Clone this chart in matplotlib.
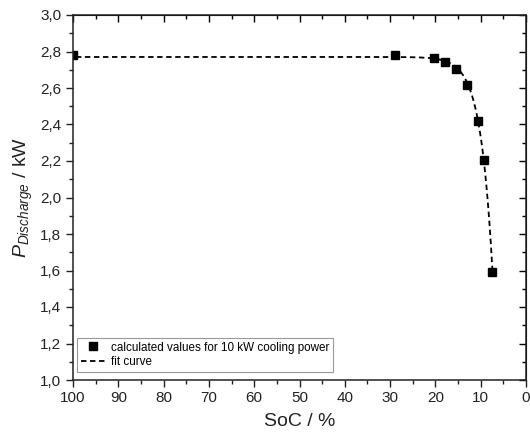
import matplotlib
import numpy as np

matplotlib.use("Agg")
matplotlib.rcParams["font.family"] = ["Liberation Sans", "DejaVu Sans"]
matplotlib.rcParams["mathtext.fontset"] = "custom"
matplotlib.rcParams["mathtext.rm"] = "Liberation Sans"
matplotlib.rcParams["mathtext.it"] = "Liberation Sans:italic"
import matplotlib.pyplot as plt  # noqa: E402
from matplotlib.ticker import FuncFormatter, MultipleLocator  # noqa: E402

# calculated discharge power vs state of charge (10 kW cooling power)
soc = [100.0, 28.9, 20.2, 17.9, 15.5, 13.0, 10.5, 9.3, 7.4]
power = [2.78, 2.78, 2.763, 2.740, 2.703, 2.615, 2.419, 2.205, 1.593]

LABEL_POINTS = "calculated values for 10 kW cooling power"
LABEL_FIT = "fit curve"


def fit_curve(x, y):
    # y = a - b * exp(-c * x), least squares over a grid of c
    x = np.asarray(x)
    y = np.asarray(y)
    best = None
    for c in np.linspace(0.05, 1.5, 2000):
        A = np.column_stack([np.ones_like(x), -np.exp(-c * x)])
        coef, *_ = np.linalg.lstsq(A, y, rcond=None)
        sse = np.sum((A @ coef - y) ** 2)
        if best is None or sse < best[0]:
            best = (sse, c, coef)
    _, c, (a, b) = best
    xs = np.linspace(x.min(), x.max(), 800)
    return xs, a - b * np.exp(-c * xs)


fig = plt.figure(figsize=(5.30, 4.37), dpi=100)
ax = fig.add_axes([73 / 530, 1 - 380 / 437, 453 / 530, 365 / 437])

xs, ys = fit_curve(soc, power)
ax.plot(xs, ys, color="black", linestyle=(0, (3, 2)), linewidth=1.3, label=LABEL_FIT)
ax.plot(soc, power, linestyle="none", marker="s", markersize=5.5,
        color="black", label=LABEL_POINTS)

ax.set_xlim(100, 0)
ax.set_ylim(1.0, 3.0)
ax.xaxis.set_major_locator(MultipleLocator(10))
ax.xaxis.set_minor_locator(MultipleLocator(5))
ax.yaxis.set_major_locator(MultipleLocator(0.2))
ax.yaxis.set_minor_locator(MultipleLocator(0.1))
ax.yaxis.set_major_formatter(FuncFormatter(lambda v, _: f"{v:.1f}".replace(".", ",")))
ax.xaxis.set_major_formatter(FuncFormatter(lambda v, _: f"{v:.0f}"))

ax.tick_params(axis="both", which="major", labelsize=11, length=5, width=1.0,
               direction="out", color="#222222", labelcolor="#222222")
ax.tick_params(axis="both", which="minor", length=3, width=1.0, direction="out",
               color="#222222")
ax.tick_params(axis="x", pad=3)

# inward ticks on the top and right edges
sec_x = ax.secondary_xaxis("top")
sec_x.xaxis.set_major_locator(MultipleLocator(10))
sec_x.xaxis.set_minor_locator(MultipleLocator(5))
sec_x.tick_params(which="major", direction="in", length=5, width=1.0, labeltop=False)
sec_x.tick_params(which="minor", direction="in", length=3, width=1.0)
sec_y = ax.secondary_yaxis("right")
sec_y.yaxis.set_major_locator(MultipleLocator(0.2))
sec_y.yaxis.set_minor_locator(MultipleLocator(0.1))
sec_y.tick_params(which="major", direction="in", length=5, width=1.0, labelright=False)
sec_y.tick_params(which="minor", direction="in", length=3, width=1.0)

for spine in ax.spines.values():
    spine.set_linewidth(1.1)
    spine.set_color("#222222")

ax.set_xlabel("SoC / %", fontsize=14, labelpad=6, color="#222222")
ax.set_ylabel(r"$P_{Discharge}$ / kW", fontsize=14, labelpad=4, color="#222222")

handles, labels = ax.get_legend_handles_labels()
leg = ax.legend(handles[::-1], labels[::-1], loc="lower left",
                bbox_to_anchor=(0.009, 0.022), borderaxespad=0, fontsize=8.4,
                fancybox=False, framealpha=1, edgecolor="#999999",
                handlelength=2.2, handletextpad=0.4, labelspacing=0.25,
                borderpad=0.3)
leg.get_frame().set_linewidth(0.8)

fig.savefig("out.png", dpi=100)
